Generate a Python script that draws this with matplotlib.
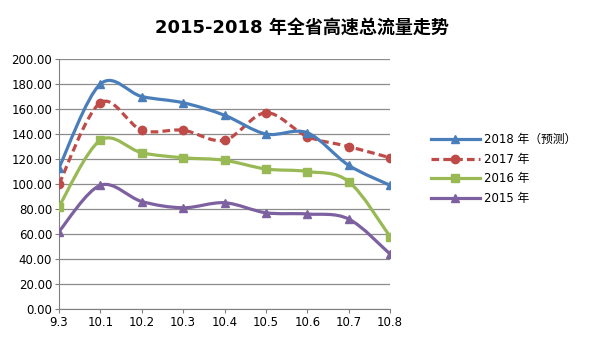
import matplotlib
matplotlib.use("Agg")
import matplotlib.pyplot as plt
from matplotlib.path import Path
from matplotlib.patches import PathPatch
from matplotlib.lines import Line2D
import numpy as np

plt.rcParams['font.family'] = ['DejaVu Sans', 'Noto Sans CJK SC']

categories = ["9.3", "10.1", "10.2", "10.3", "10.4", "10.5", "10.6", "10.7", "10.8"]
y2018 = [113, 180, 170, 165, 155, 140, 141, 115, 99]
y2017 = [100, 165, 143, 143, 135, 157, 138, 130, 121]
y2016 = [82, 135, 125, 121, 119, 112, 110, 102, 58]
y2015 = [62, 99, 86, 81, 85, 77, 76, 72, 44]
labels = ["2018 年（预测）", "2017 年", "2016 年", "2015 年"]
series = [y2018, y2017, y2016, y2015]
colors = ["#4A7EBB", "#BE4B48", "#98B954", "#7D60A0"]
markers = ["^", "o", "s", "^"]
styles = ["-", (0, (2.4, 1.3)), "-", "-"]

fig = plt.figure(figsize=(6.05, 3.4), dpi=100)
ax = fig.add_axes([59/605, 1 - 309/340, (390-59)/605, (309-59)/340])

def smooth_path(xs, ys):
    pts = np.column_stack([xs, ys]).astype(float)
    n = len(pts)
    verts = [pts[0]]
    codes = [Path.MOVETO]
    for i in range(n - 1):
        p0 = pts[i - 1] if i > 0 else pts[i]
        p1 = pts[i]
        p2 = pts[i + 1]
        p3 = pts[i + 2] if i + 2 < n else pts[i + 1]
        c1 = p1 + (p2 - p0) / 6.0
        c2 = p2 - (p3 - p1) / 6.0
        verts += [c1, c2, p2]
        codes += [Path.CURVE4] * 3
    return Path(verts, codes)

xs = np.arange(len(categories))
handles = []
for k, (ys, c, m, ls, lab) in enumerate(zip(series, colors, markers, styles, labels)):
    z = 3 + (4 - k)
    patch = PathPatch(smooth_path(xs, ys), facecolor="none", edgecolor=c,
                      lw=2.3, linestyle=ls, zorder=z, capstyle="butt")
    ax.add_patch(patch)
    ax.plot(xs, ys, linestyle="none", marker=m, color=c, markersize=6, zorder=z + 0.5)
    handles.append(Line2D([0], [0], color=c, lw=2.3, linestyle=ls, marker=m, markersize=6))

ax.set_xlim(0, len(categories) - 1)
ax.set_ylim(0, 200)
ax.set_yticks(np.arange(0, 201, 20))
ax.set_yticklabels([f"{v:.2f}" for v in range(0, 201, 20)])
ax.set_xticks(xs)
ax.set_xticklabels(categories)
ax.tick_params(labelsize=8.5, length=3, color="#808080", pad=2)
ax.grid(axis="y", color="#8c8c8c", lw=0.9)
ax.set_axisbelow(True)
for s in ["top", "right"]:
    ax.spines[s].set_visible(False)
for s in ["left", "bottom"]:
    ax.spines[s].set_color("#808080")

fig.text(302/605, 1 - 28/340, "2015-2018 年全省高速总流量走势", ha="center", va="center",
         fontsize=13, fontweight="bold")

fig.legend(handles, labels, loc="center left", bbox_to_anchor=(420/605, 1 - 169/340),
           frameon=False, fontsize=8.5, handlelength=4.2, labelspacing=0.55,
           handletextpad=0.3)

fig.savefig("out.png", dpi=100)
